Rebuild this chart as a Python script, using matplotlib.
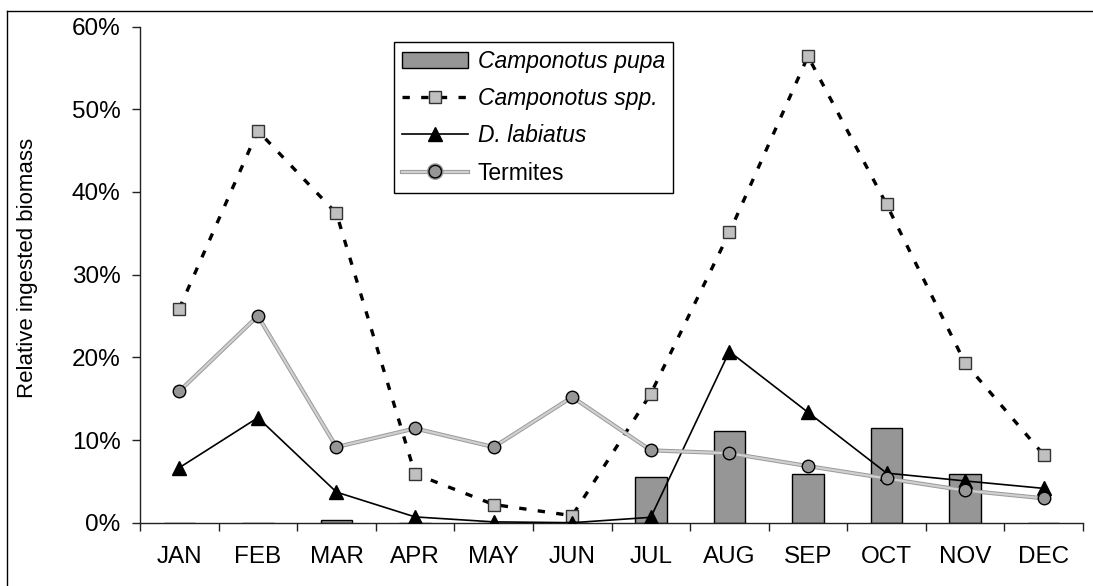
import numpy as np
import matplotlib
matplotlib.use("Agg")
import matplotlib.pyplot as plt
import matplotlib.patheffects as pe
from matplotlib.lines import Line2D
from matplotlib.ticker import FixedLocator, FuncFormatter

plt.rcParams['font.family'] = ['Liberation Sans', 'DejaVu Sans']

months = ['JAN', 'FEB', 'MAR', 'APR', 'MAY', 'JUN',
          'JUL', 'AUG', 'SEP', 'OCT', 'NOV', 'DEC']

# relative ingested biomass, in %
camponotus_pupa = [0, 0, 0.36, 0, 0, 0, 5.5, 11.1, 5.85, 11.5, 5.85, 0]
camponotus_spp = [25.9, 47.4, 37.4, 5.9, 2.2, 0.85, 15.6, 35.1, 56.4, 38.5, 19.3, 8.2]
d_labiatus = [6.65, 12.7, 3.7, 0.7, 0.1, 0.0, 0.65, 20.7, 13.35, 6.0, 5.05, 4.15]
termites = [15.9, 25.0, 9.15, 11.4, 9.15, 15.2, 8.75, 8.4, 6.85, 5.35, 3.9, 2.95]


def main():
    W, H = 1093, 586
    fig = plt.figure(figsize=(W / 100, H / 100), dpi=100)
    ax = fig.add_axes([140 / W, 63.3 / H, 943 / W, 496.1 / H])

    x = np.arange(len(months))
    ax.set_xlim(-0.5, len(months) - 0.5)
    ax.set_ylim(0, 60)

    ax.bar(x, camponotus_pupa, width=0.4, color='#969696', edgecolor='black',
           linewidth=1.0, zorder=2)

    # dashed line first, markers drawn separately so dashes stay under them
    ax.plot(x, camponotus_spp, color='black', lw=2.4, dashes=(2.2, 3.4),
            zorder=3)
    ax.plot(x, camponotus_spp, ls='none', marker='s', ms=8.5, mfc='#c0c0c0',
            mec='#333333', mew=1.0, zorder=4)

    ax.plot(x, d_labiatus, color='black', lw=1.2, marker='^', ms=10,
            mfc='black', mec='black', zorder=5)

    term_fx = [pe.Stroke(linewidth=3.0, foreground='#9a9a9a'), pe.Normal()]
    ax.plot(x, termites, color='#d0d0d0', lw=1.6, zorder=6,
            path_effects=term_fx)
    ax.plot(x, termites, ls='none', marker='o', ms=9, mfc='#969696',
            mec='black', mew=1.0, zorder=7)

    for side in ['top', 'right']:
        ax.spines[side].set_visible(False)
    for side in ['left', 'bottom']:
        ax.spines[side].set_linewidth(1.0)
        ax.spines[side].set_color('#222222')

    ax.set_yticks(np.arange(0, 61, 10))
    ax.yaxis.set_major_formatter(FuncFormatter(lambda v, p: f'{int(v)}%'))
    ax.tick_params(axis='y', direction='out', length=6, width=1.0,
                   color='#222222', labelsize=17.5, pad=8)

    ax.set_xticks(x)
    ax.set_xticklabels(months)
    ax.xaxis.set_minor_locator(FixedLocator(np.arange(len(months) + 1) - 0.5))
    ax.tick_params(axis='x', which='major', length=0, labelsize=17.5, pad=17)
    ax.tick_params(axis='x', which='minor', direction='out', length=6,
                   width=1.0, color='#222222')

    fig.text(28 / W, 1 - 268 / H, 'Relative ingested biomass', rotation=90,
             ha='center', va='center', fontsize=16)

    handles = [
        plt.Rectangle((0, 0), 1, 1, facecolor='#969696', edgecolor='black', lw=1.0),
        Line2D([], [], color='black', lw=2.4, dashes=(2.2, 3.4), marker='s',
               ms=8.5, mfc='#c0c0c0', mec='#333333'),
        Line2D([], [], color='black', lw=1.2, marker='^', ms=10, mfc='black'),
        Line2D([], [], color='#d0d0d0', lw=1.6, marker='o', ms=9,
               mfc='#969696', mec='black', path_effects=term_fx),
    ]
    labels = ['Camponotus pupa', 'Camponotus spp.', 'D. labiatus', 'Termites']
    leg = fig.legend(handles, labels, loc='upper left',
                     bbox_to_anchor=(394 / W, 1 - 42 / H), borderaxespad=0,
                     fontsize=16.5, frameon=True, fancybox=False, framealpha=1,
                     edgecolor='black', handlelength=2.9, handletextpad=0.4,
                     borderpad=0.35, labelspacing=0.62)
    leg.get_frame().set_linewidth(1.0)
    for txt in leg.get_texts()[:3]:
        txt.set_fontstyle('italic')

    # border line along the top and left of the figure
    fig.add_artist(Line2D([7 / W, 7 / W], [0, 1 - 11 / H], color='black', lw=1.0,
                          transform=fig.transFigure))
    fig.add_artist(Line2D([7 / W, 1], [1 - 11 / H, 1 - 11 / H], color='black',
                          lw=1.0, transform=fig.transFigure))

    fig.savefig('out.png', dpi=100)


if __name__ == "__main__":
    main()
